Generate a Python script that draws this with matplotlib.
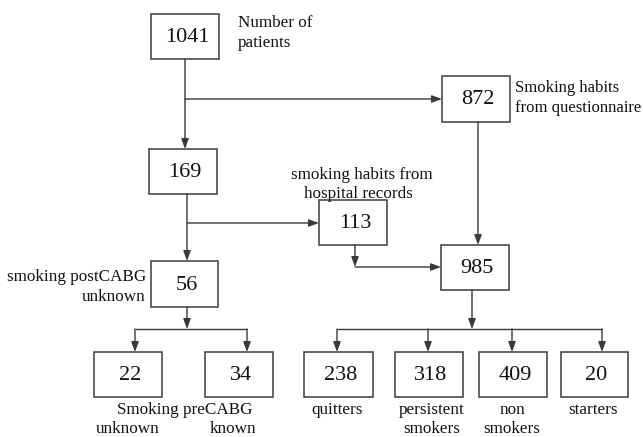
import matplotlib
matplotlib.use("Agg")
import matplotlib.pyplot as plt
from matplotlib.patches import Rectangle

# ---- data ----
node_names = ["total", "hosp", "quest", "records", "post_unknown", "combined",
              "pre_unknown", "pre_known", "quitters", "persistent", "non", "starters"]
node_values = [1041, 169, 872, 113, 56, 985, 22, 34, 238, 318, 409, 20]
total_label = ["Number of", "patients"]
quest_label = ["Smoking habits", "from questionnaire"]
records_label = ["smoking habits from", "hospital records"]
post_label = ["smoking postCABG", "unknown"]
pre_label = "Smoking preCABG"
pre_sub_labels = ["unknown", "known"]
outcome_labels = [["quitters"], ["persistent", "smokers"], ["non", "smokers"], ["starters"]]

# ---- layout (pixels, y down) ----
boxes = {
    "total": (151, 14, 219, 59),
    "hosp": (149, 149, 217, 194),
    "quest": (442, 76, 510, 122),
    "records": (319, 200, 387, 245),
    "post_unknown": (151, 261, 218, 307),
    "combined": (441, 245, 509, 290),
    "pre_unknown": (94, 352, 162, 397),
    "pre_known": (205, 352, 273, 397),
    "quitters": (304, 352, 373, 397),
    "persistent": (395, 352, 463, 397),
    "non": (479, 352, 547, 397),
    "starters": (561, 352, 628, 397),
}

W, H = 643, 437
fig = plt.figure(figsize=(W / 100, H / 100), dpi=100)
ax = fig.add_axes([0, 0, 1, 1])
ax.set_xlim(0, W)
ax.set_ylim(H, 0)
ax.axis("off")

LC = "#3a3a3a"
FONT = "Liberation Serif"

for name, val in zip(node_names, node_values):
    x0, y0, x1, y1 = boxes[name]
    ax.add_patch(Rectangle((x0, y0), x1 - x0, y1 - y0, fill=False,
                           edgecolor=LC, linewidth=1.1))
    ax.text((x0 + x1) / 2 + 2, (y0 + y1) / 2 + 1, str(val), ha="center",
            va="center", fontsize=16, family=FONT, color="#111111")


def line(xs, ys):
    ax.plot(xs, ys, color=LC, linewidth=1.0, solid_capstyle="butt")


def arrow(x0, y0, x1, y1):
    ax.annotate("", xy=(x1, y1), xytext=(x0, y0),
                arrowprops=dict(arrowstyle="-|>,head_length=0.6,head_width=0.22",
                                color=LC, lw=1.0, shrinkA=0, shrinkB=0))


# 1041 -> 169 and -> 872
arrow(185, 59, 185, 149)
arrow(185, 99, 442, 99)
# 872 -> 985
arrow(478, 122, 478, 245)
# 169 -> 56 and -> 113
arrow(187, 194, 187, 261)
arrow(187, 223, 319, 223)
# 113 -> 985
arrow(355, 245, 355, 267)
arrow(355, 267, 441, 267)
# 56 -> split
arrow(187, 307, 187, 329)
line([135, 247], [329, 329])
arrow(135, 329, 135, 352)
arrow(247, 329, 247, 352)
# 985 -> split
arrow(472, 290, 472, 329)
line([337, 602], [329, 329])
for xc in [337, 428, 512, 602]:
    arrow(xc, 329, xc, 352)

# text labels
fs = 12.3


def txt(x, y, s, ha="center", size=fs):
    ax.text(x, y, s, ha=ha, va="center", fontsize=size, family=FONT,
            color="#111111")


txt(238, 23, total_label[0], ha="left")
txt(238, 43, total_label[1], ha="left")
txt(515, 88, quest_label[0], ha="left", size=12)
txt(515, 108, quest_label[1], ha="left", size=12)
txt(362, 175, records_label[0])
txt(358, 194, records_label[1])
txt(146, 277, post_label[0], ha="right")
txt(146, 297, post_label[1], ha="right")
txt(185, 410, pre_label)
txt(128, 429, pre_sub_labels[0])
txt(233, 429, pre_sub_labels[1])
for xc, lab in zip([337, 432, 512, 593], outcome_labels):
    for i, s in enumerate(lab):
        txt(xc, 410 + 19 * i, s)

fig.savefig("out.png", dpi=100)
